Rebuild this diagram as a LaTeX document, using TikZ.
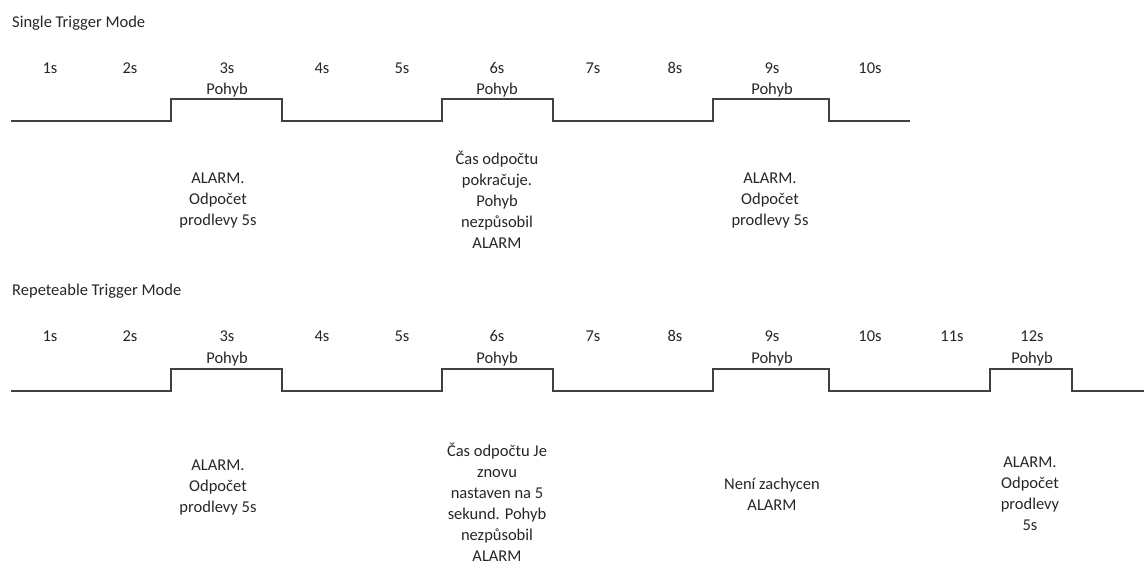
\documentclass[tikz,border=0pt]{standalone}
\usepackage{fontspec}
\setmainfont{Carlito}
\begin{document}
\begin{tikzpicture}[x=1pt,y=-1pt,
  txt/.style={text=black!85, font=\fontsize{16.5}{21}\selectfont, inner sep=0pt},
  lab/.style={txt, anchor=base},
  blk/.style={txt, align=center},
  wave/.style={draw=black!75, line width=1.3pt}]
\useasboundingbox (0,0) rectangle (1144,568);
% ---------- Single Trigger Mode ----------
\node[txt, anchor=base west] (t1) at (12,27) {Single Trigger Mode};
\foreach \l/\x [count=\i] in {1s/50,2s/130,3s/227,4s/322,5s/402,6s/497,7s/593,8s/675,9s/772,10s/870}
  \node[lab] (a\i) at (\x,73) {\l};
\foreach \x [count=\i] in {227,497,772}
  \node[lab] (ap\i) at (\x,94) {Pohyb};
\draw[wave] (11,121) -- (171,121) -- (171,99) -- (282,99) -- (282,121)
  -- (442,121) -- (442,99) -- (553,99) -- (553,121)
  -- (713,121) -- (713,99) -- (829,99) -- (829,121) -- (910,121);
\node[blk] (ab1) at (218,201) {ALARM.\\Odpočet\\prodlevy 5s};
\node[blk] (ab2) at (497,200) {Čas odpočtu\\pokračuje.\\Pohyb\\nezpůsobil\\ALARM};
\node[blk] (ab3) at (770,201) {ALARM.\\Odpočet\\prodlevy 5s};
% ---------- Repeteable Trigger Mode ----------
\node[txt, anchor=base west] (t2) at (12,295) {Repeteable Trigger Mode};
\foreach \l/\x [count=\i] in {1s/50,2s/130,3s/227,4s/322,5s/402,6s/497,7s/593,8s/675,9s/772,10s/870,11s/952,12s/1032}
  \node[lab] (b\i) at (\x,341) {\l};
\foreach \x [count=\i] in {227,497,772,1032}
  \node[lab] (bp\i) at (\x,363) {Pohyb};
\draw[wave] (11,391) -- (171,391) -- (171,369) -- (282,369) -- (282,391)
  -- (442,391) -- (442,369) -- (553,369) -- (553,391)
  -- (713,391) -- (713,369) -- (829,369) -- (829,391)
  -- (990,391) -- (990,369) -- (1072,369) -- (1072,391) -- (1144,391);
\node[blk] (bb1) at (218,488) {ALARM.\\Odpočet\\prodlevy 5s};
\node[blk] (bb2) at (497,502) {Čas odpočtu Je\\znovu\\nastaven na 5\\sekund. Pohyb\\nezpůsobil\\ALARM};
\node[blk] (bb3) at (772,494) {Není zachycen\\ALARM};
\node[blk] (bb4) at (1030,494) {ALARM.\\Odpočet\\prodlevy\\5s};
\end{tikzpicture}
\end{document}
